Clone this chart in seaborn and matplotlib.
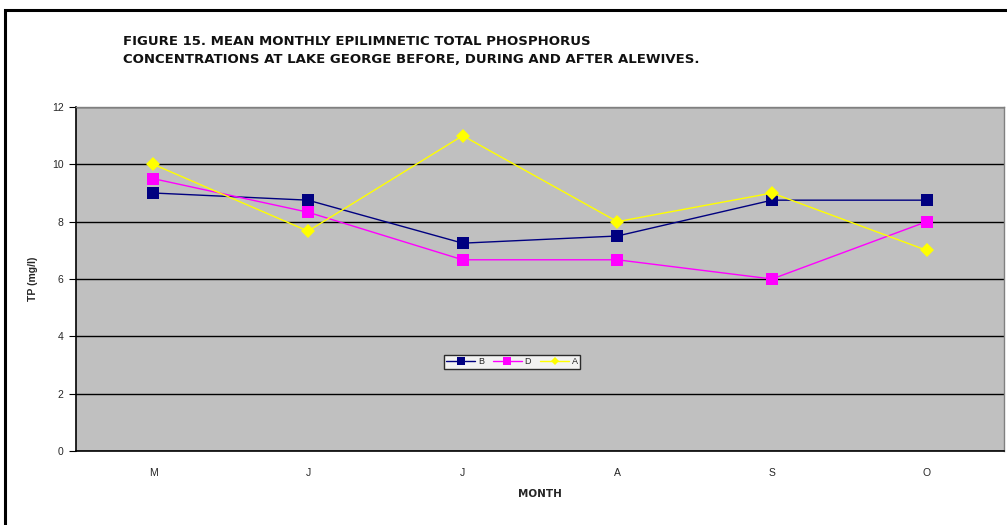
import matplotlib
matplotlib.use("Agg")
import matplotlib.pyplot as plt
import seaborn as sns
import pandas as pd
import numpy as np
from matplotlib.patches import Rectangle

months = ["M", "J", "J", "A", "S", "O"]
series_names = ["B", "D", "A"]
before = [9.0, 8.75, 7.25, 7.5, 8.75, 8.75]
during = [9.5, 8.33, 6.67, 6.67, 6.0, 8.0]
after = [10.0, 7.67, 11.0, 8.0, 9.0, 7.0]
yticks = [0, 2, 4, 6, 8, 10, 12]

title = ("FIGURE 15. MEAN MONTHLY EPILIMNETIC TOTAL PHOSPHORUS\n"
         "CONCENTRATIONS AT LAKE GEORGE BEFORE, DURING AND AFTER ALEWIVES.")

pos = np.arange(len(months))
df = pd.DataFrame({
    "pos": np.concatenate([pos, pos, pos]),
    "TP": before + during + after,
    "series": np.repeat(series_names, len(months)),
})

sns.set_theme(style="white")
plt.rcParams["font.family"] = ["Liberation Sans", "DejaVu Sans"]

fig = plt.figure(figsize=(10.07, 5.25), dpi=100)
fig.patch.set_facecolor("white")
# outer chart border (cropped on right/bottom)
fig.patches.append(Rectangle((5 / 1007, -0.05), 1.1, (525 - 10) / 525 + 0.05,
                             transform=fig.transFigure, fill=False,
                             edgecolor="black", linewidth=2.2, zorder=0))

ax = fig.add_axes([76 / 1007, 1 - 451 / 525, (1004 - 76) / 1007, (451 - 107) / 525])
ax.set_facecolor("#C0C0C0")

palette = {"B": "#000080", "D": "#FF00FF", "A": "#FFFF00"}
markers = {"B": "s", "D": "s", "A": "D"}
sns.lineplot(data=df, x="pos", y="TP", hue="series", style="series",
             palette=palette, markers=markers, dashes=False,
             markersize=9, markeredgewidth=0, linewidth=1.0, ax=ax, zorder=3)
for ln in ax.lines:
    if ln.get_marker() == "D":
        ln.set_markersize(7)

ax.set_xlim(-0.5, len(months) - 0.5)
ax.set_ylim(0, 12)
ax.set_yticks(yticks)
ax.set_yticklabels([str(v) for v in yticks], fontsize=7.5)
ax.yaxis.grid(True, color="black", linewidth=1.0)
ax.set_axisbelow(True)

ax.set_xticks(np.arange(-0.5, len(months), 1.0))
ax.set_xticklabels([])
ax.set_xticks(pos, minor=True)
ax.set_xticklabels(months, minor=True, fontsize=7.5)
ax.tick_params(axis="x", which="major", direction="out", length=5, width=0.8, color="black")
ax.tick_params(axis="x", which="minor", length=0, pad=12)
ax.tick_params(axis="y", direction="out", length=5, width=0.8, color="black", pad=4, left=True)

for s in ["left", "bottom"]:
    ax.spines[s].set_color("black")
    ax.spines[s].set_linewidth(1.2)
for s in ["top", "right"]:
    ax.spines[s].set_color("#808080")
    ax.spines[s].set_linewidth(1.0)

ax.set_xlabel("MONTH", fontsize=7.5, fontweight="bold", labelpad=8,
              family=["DejaVu Sans"])
ax.set_ylabel("TP (mg/l)", fontsize=7.5, fontweight="bold", labelpad=10)

leg = ax.legend(loc="center", bbox_to_anchor=(512 / 1007, 1 - 362 / 525),
                bbox_transform=fig.transFigure, ncol=3, fontsize=6.5,
                frameon=True, fancybox=False, edgecolor="black",
                handlelength=3.2, handletextpad=0.3, columnspacing=1.0,
                borderpad=0.3, markerscale=0.6, title=None)
leg.get_frame().set_linewidth(1.0)
leg.get_frame().set_facecolor("white")

fig.text(123 / 1007, 1 - 35 / 525, title, fontsize=9.5, fontweight="bold",
         ha="left", va="top", linespacing=1.5, family=["DejaVu Sans"],
         color="#111111")

fig.savefig("out.png", dpi=100, facecolor="white")
